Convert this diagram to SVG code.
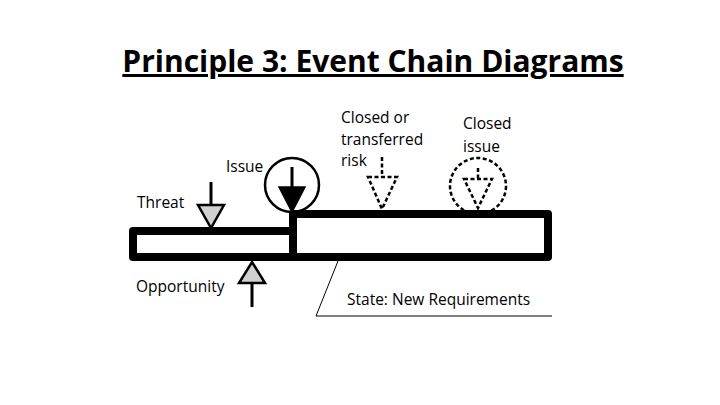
<svg xmlns="http://www.w3.org/2000/svg" width="720" height="405" viewBox="0 0 720 405">
<defs>
<style>
.t{font-family:"Open Sans","Liberation Sans",sans-serif;fill:#000}
.lbl{font-size:15.5px}
.bar{fill:#fff;stroke:#000;stroke-width:8;stroke-linejoin:round}
.ln{stroke:#000;stroke-width:3;fill:none}
.gray{fill:#d0d0d0;stroke:#000;stroke-width:2.5;stroke-linejoin:miter}
.dash{stroke:#000;stroke-width:2.5;fill:none;stroke-dasharray:4,2.5}
</style>
</defs>
<rect width="720" height="405" fill="#fff"/>
<g id="title">
<text class="t" x="373" y="72" font-size="30" font-weight="bold" text-anchor="middle" text-decoration="underline">Principle 3: Event Chain Diagrams</text>
</g>
<g id="bar1">
<rect class="bar" x="133" y="231" width="160" height="26"/>
</g>
<g id="bar2">
<rect class="bar" x="293" y="214" width="255" height="43"/>
</g>
<g id="issue">
<circle cx="292" cy="185" r="27" fill="none" stroke="#000" stroke-width="2.5"/>
<line class="ln" x1="292" y1="167" x2="292" y2="188"/>
<polygon points="279,187 305,187 292,212" fill="#000" stroke="#000" stroke-width="1.5"/>
<text class="t lbl" x="226" y="172">Issue</text>
</g>
<g id="threat">
<line class="ln" x1="211" y1="182" x2="211" y2="205"/>
<polygon class="gray" points="198,205 224,205 211,228"/>
<text class="t lbl" x="137" y="208">Threat</text>
</g>
<g id="opportunity">
<line class="ln" x1="252" y1="283" x2="252" y2="307"/>
<polygon class="gray" points="239,283 265,283 252,262"/>
<text class="t lbl" x="136" y="292">Opportunity</text>
</g>
<g id="closed-risk">
<line class="dash" x1="382" y1="157" x2="382" y2="177"/>
<polygon class="dash" points="368,177 397,177 382,209" fill="#fff"/>
<text class="t lbl" x="341" y="123">Closed or</text>
<text class="t lbl" x="341" y="145">transferred</text>
<text class="t lbl" x="341" y="166">risk</text>
</g>
<g id="closed-issue">
<circle class="dash" cx="478" cy="186" r="28"/>
<line class="dash" x1="478" y1="168" x2="478" y2="179"/>
<polygon class="dash" points="464,179 492,179 478,208" fill="#fff"/>
<text class="t lbl" x="463" y="129">Closed</text>
<text class="t lbl" x="463" y="152">issue</text>
</g>
<g id="connectors">
<polyline points="338,261 316,316 552,316" fill="none" stroke="#000" stroke-width="1"/>
</g>
<g id="state">
<text class="t lbl" x="347" y="305">State: New Requirements</text>
</g>
</svg>
